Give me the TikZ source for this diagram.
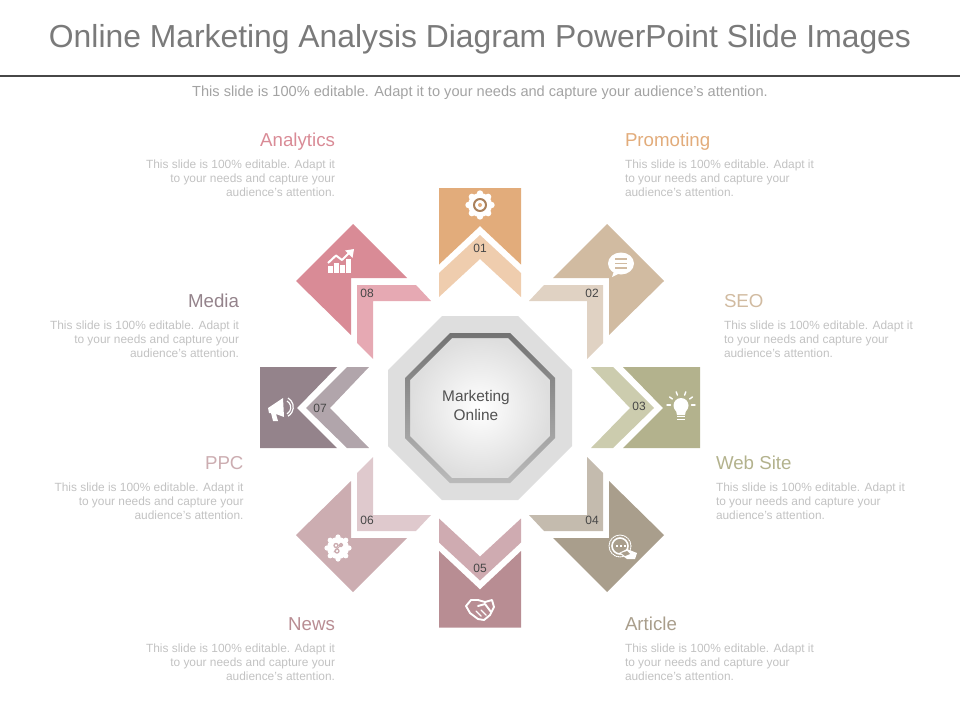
\documentclass[tikz,border=0pt]{standalone}
\usepackage{fontspec}
\setmainfont{Liberation Sans}
\definecolor{big1}{HTML}{E2AC7B}
\definecolor{big2}{HTML}{D1BBA1}
\definecolor{big3}{HTML}{B3B28D}
\definecolor{big4}{HTML}{A99E8C}
\definecolor{big5}{HTML}{B88D93}
\definecolor{big6}{HTML}{CCADB1}
\definecolor{big7}{HTML}{94838B}
\definecolor{big8}{HTML}{D98B96}
\definecolor{small1}{HTML}{EFCDAE}
\definecolor{small2}{HTML}{E0D2C3}
\definecolor{small3}{HTML}{CCCCAE}
\definecolor{small4}{HTML}{C4BBAE}
\definecolor{small5}{HTML}{CFABB1}
\definecolor{small6}{HTML}{DFC9CD}
\definecolor{small7}{HTML}{B1A5AB}
\definecolor{small8}{HTML}{E6A9B3}
\newcommand{\fsz}[2]{\fontsize{#1}{#2}\selectfont}
\begin{document}
\begin{tikzpicture}[x=1pt,y=-1pt,line join=round,line cap=round]
	\tikzset{every node/.style={inner sep=0pt,outer sep=0pt}}
	\tikzset{headtxt/.style={font=\fsz{18.7}{20}},bodytxt/.style={font=\fsz{11.9}{14},color=black!24},numtxt/.style={font=\fsz{12}{13},color=black!72},iconline/.style={white,line width=1.4pt}}
	\useasboundingbox (0,0) rectangle (960,720);
	\node[font=\fsz{31.85}{34},color=black!52] (title) at (480,39) {Online Marketing Analysis Diagram PowerPoint Slide Images};
	\coordinate (ruleL) at (0,76);
	\coordinate (ruleR) at (960,76);
	\draw[line width=2.4pt,black!72,line cap=butt] (ruleL)--(ruleR);
	\node[font=\fsz{14.6}{16},color=black!36] (subtitle) at (480,92.5) {This slide is 100\% editable.  Adapt it to your needs and capture your audience's attention.};
	\fill[big1] (439,188)--(521,188)--(521,264.5)--(480,226)--(439,264.5)--cycle;
	\fill[small1] (480,235)--(521,273)--(521,297)--(480,259)--(439,297)--(439,273)--cycle;
	\fill[big2] (607,224)--(664,281)--(609,335)--(609,278)--(553,278)--cycle;
	\fill[small2] (529,301)--(544,285)--(603,285)--(603,343)--(587,359)--(587,301)--cycle;
	\fill[big3] (623,367)--(700,367)--(700,448)--(623,448)--(663,408)--cycle;
	\fill[small3] (591,367)--(613,367)--(654,408)--(613,448)--(591,448)--(630,408)--cycle;
	\fill[big4] (607,592)--(664,535)--(609,481)--(609,538)--(553,538)--cycle;
	\fill[small4] (529,515)--(544,531)--(603,531)--(603,473)--(587,457)--(587,515)--cycle;
	\fill[big5] (439,627.5)--(521,627.5)--(521,551)--(480,589.5)--(439,551)--cycle;
	\fill[small5] (480,580.5)--(521,542.5)--(521,518.5)--(480,556.5)--(439,518.5)--(439,542.5)--cycle;
	\fill[big6] (353,592)--(296,535)--(351,481)--(351,538)--(407,538)--cycle;
	\fill[small6] (431,515)--(416,531)--(357,531)--(357,473)--(373,457)--(373,515)--cycle;
	\fill[big7] (337,367)--(260,367)--(260,448)--(337,448)--(297,408)--cycle;
	\fill[small7] (369,367)--(347,367)--(306,408)--(347,448)--(369,448)--(330,408)--cycle;
	\fill[big8] (353,224)--(296,281)--(351,335)--(351,278)--(407,278)--cycle;
	\fill[small8] (431,301)--(416,285)--(357,285)--(357,343)--(373,359)--(373,301)--cycle;
	\fill[black!13] (442,316)--(518,316)--(572,370)--(572,446)--(518,500)--(442,500)--(388,446)--(388,370)--cycle;
	\shade[inner color=white,outer color=black!13] (452,338)--(508,338)--(550,380)--(550,436)--(508,478)--(452,478)--(410,436)--(410,380)--cycle;
	\shade[even odd rule,top color=black!55,bottom color=black!27] (450,333)--(510,333)--(555,378)--(555,438)--(510,483)--(450,483)--(405,438)--(405,378)--cycle (452,338)--(508,338)--(550,380)--(550,436)--(508,478)--(452,478)--(410,436)--(410,380)--cycle;
	\node[font=\fsz{15.4}{19},color=black!68,align=center] (center) at (476,405) {Marketing\\Online};
	\foreach \n/\x/\y/\lab in {1/480/248/01,2/592/293/02,3/639/406/03,4/592/520/04,5/480/568/05,6/367/520/06,7/320/408/07,8/367/293/08}
	\node[numtxt] (num\n) at (\x,\y) {\lab};
	\foreach \n/\x/\y/\ttl/\side/\al in {8/335/146/Analytics/east/right,1/625/146/Promoting/west/left,7/239/307/Media/east/right,2/724/307/SEO/west/left,6/243.5/469/PPC/east/right,3/716/469/Web Site/west/left,5/335/630/News/east/right,4/625/630/Article/west/left}
	{
		\node[headtxt,color=big\n,anchor=base \side] (head\n) at (\x,\y) {\ttl};
		\node[bodytxt,align=\al,anchor=north \side] (body\n) at (\x,\y+13.5) {This slide is 100\% editable. Adapt it\\to your needs and capture your\\audience's attention.};
	}
	\foreach \a in {0,45,...,315}
	\fill[white] (480,205)++(\a:11.5) circle (3.2);
	\fill[white] (480,205) circle (12);
	\draw[black!25!big1,line width=2pt] (480,205) circle (6);
	\fill[big1] (480,205) circle (2);
	\foreach \bx/\by in {328/266,334/263,340/265,346/259}
	\fill[white] (\bx,\by) rectangle (\bx+4.6,273);
	\draw[white,line width=2pt,line cap=butt] (328,263)--(336,255.5)--(342,260)--(350,252);
	\fill[white] (354,249)--(345,250.5)--(352.5,258)--cycle;
	\fill[white] (621,263.5) ellipse (13 and 11);
	\fill[white] (614,271)--(612,277)--(620,273)--cycle;
	\foreach \ly in {259,263.5,268}
	\draw[big2,line width=1.3pt,line cap=butt] (615,\ly)--(627,\ly);
	\fill[white] (681,405.5) circle (7.5);
	\fill[white] (675.5,408)--(686.5,408)--(685,415)--(677,415)--cycle;
	\foreach \ly in {416.5,419.5}
	\draw[white,line width=1.8pt,line cap=butt] (677,\ly)--(685,\ly);
	\foreach \a in {180,215,250,290,325,360}
	\draw[iconline] (681,405)++(\a:10.5)--++(\a:3.5);
	\draw[white,line width=1.6pt] (620,546) circle (8);
	\draw[white,line width=1pt,dash pattern=on 1pt off 1pt] (620,546) circle (11);
	\foreach \dx in {616,620,624}
	\fill[white] (\dx,544.5) rectangle (\dx+2,547);
	\fill[white] (619,553)--(627,549)--(637,553)--(635,559)--(627,559)--cycle;
	\fill[big4] (621,553)--(627,551)--(630,554)--(625,556)--cycle;
	\draw[white,line width=1.9pt] (471,600)--(466,606)--(470,613)--(478,619)--(484,620)--(490,615)--(494,607)--(492,600)--(485,602)--(478,600)--cycle;
	\draw[white,line width=1.9pt] (478,606)--(485,604)--(491,612);
	\draw[iconline] (476,611)--(481,616);
	\draw[iconline] (481,610)--(486,615);
	\foreach \a in {0,45,...,315}
	\fill[white] (338,548)++(\a:11) circle (2.6);
	\fill[white] (338,548) circle (11);
	\draw[big6,line width=1.3pt] (336,545.5) circle (2) (341,545) circle (1.6) (337,551) circle (2);
	\draw[big6,line width=1pt] (334,552)--(342,544);
	\fill[white] (268,408)--(283,398)--(284,417)--(276,414)--(278,421)--(273,421)--(271,413)--(269,413)--cycle;
	\draw[white,line width=1.2pt,line cap=butt] (287,401) arc (-60:60:7.5);
	\draw[white,line width=1.2pt,line cap=butt] (288,398) arc (-60:60:10.5);
\end{tikzpicture}
\end{document}
